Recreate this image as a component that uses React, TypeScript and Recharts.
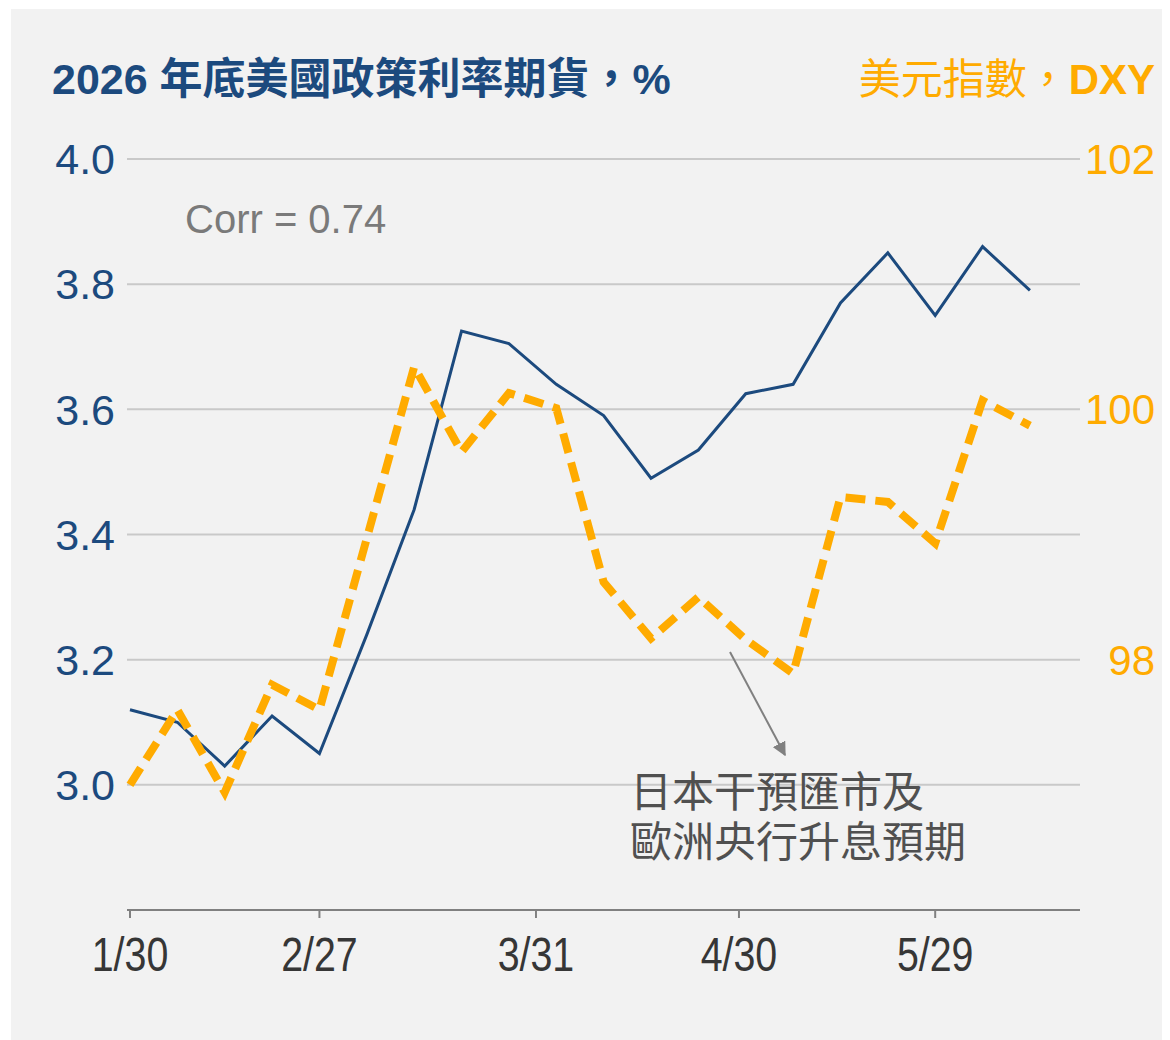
import { CartesianGrid, Line, LineChart, XAxis, YAxis } from 'recharts';

// weekly observations, x = days since 1/30
const DATES = ['1/30', '2/6', '2/13', '2/20', '2/27', '3/6', '3/13', '3/20', '3/27', '4/3',
  '4/10', '4/17', '4/24', '5/1', '5/8', '5/15', '5/22', '5/29', '6/5', '6/12'];
const DAYS = [0, 7, 14, 21, 28, 35, 42, 49, 56, 63, 70, 77, 84, 91, 98, 105, 112, 119, 126, 133];
const FED_2026 = [3.12, 3.10, 3.03, 3.11, 3.05, 3.24, 3.44, 3.725, 3.705, 3.64,
  3.59, 3.49, 3.535, 3.625, 3.64, 3.77, 3.85, 3.75, 3.86, 3.79];
const DXY = [97.0, 97.6, 96.94, 97.8, 97.6, 98.97, 100.34, 99.66, 100.13, 100.01,
  98.62, 98.17, 98.5, 98.16, 97.89, 99.3, 99.26, 98.93, 100.07, 99.87];

const X_TICKS = [0, 28, 60, 90, 119];
const X_TICK_LABELS = ['1/30', '2/27', '3/31', '4/30', '5/29'];
const LEFT_TICKS = [3.0, 3.2, 3.4, 3.6, 3.8, 4.0];
const RIGHT_TICKS = [98, 100, 102];

const BLUE = '#1c4a7e';
const ORANGE = '#ffab00';
const FONT = '"Liberation Sans", Arial, "Noto Sans CJK TC", sans-serif';

const data = DAYS.map((day, i) => ({ day, date: DATES[i], fed: FED_2026[i], dxy: DXY[i] }));

function DateTick({ x, y, payload }: any) {
  const i = X_TICKS.indexOf(payload.value);
  return (
    <g transform={`translate(${x},${y})`}>
      <text
        transform="scale(0.82,1)"
        textAnchor="middle"
        dy="0.71em"
        fontSize={48}
        fill="#363636"
        fontFamily={FONT}
      >
        {X_TICK_LABELS[i]}
      </text>
    </g>
  );
}

function DxyTick({ x, y, payload }: any) {
  return (
    <text x={x + 75} y={y} dy="0.355em" textAnchor="end" fontSize={42} fill={ORANGE} fontFamily={FONT}>
      {payload.value}
    </text>
  );
}

export default function App() {
  return (
    <div
      style={{
        position: 'relative',
        width: 1159,
        height: 1031,
        marginLeft: 3,
        marginTop: 1,
        background: '#f2f2f2',
        fontFamily: FONT,
      }}
    >
      <LineChart width={1159} height={1031} data={data} margin={{ top: 150, right: 10, bottom: 70, left: 16 }}>
        <CartesianGrid yAxisId="left" vertical={false} stroke="#c9c9c9" strokeWidth={2} />
        <XAxis
          dataKey="day"
          type="number"
          domain={[-0.44, 140.4]}
          ticks={X_TICKS}
          tick={<DateTick />}
          height={60}
          tickSize={8}
          tickMargin={19}
          axisLine={{ stroke: '#808080', strokeWidth: 2 }}
          tickLine={{ stroke: '#808080', strokeWidth: 2 }}
          interval={0}
        />
        <YAxis
          yAxisId="left"
          domain={[2.8, 4.0]}
          ticks={LEFT_TICKS}
          tickFormatter={(v: number) => v.toFixed(1)}
          width={100}
          axisLine={false}
          tickLine={false}
          tickMargin={6}
          tick={{ fontSize: 43, fill: BLUE, fontFamily: FONT }}
          interval={0}
        />
        <YAxis
          yAxisId="right"
          orientation="right"
          domain={[96, 102]}
          ticks={RIGHT_TICKS}
          width={80}
          axisLine={false}
          tickLine={false}
          tickSize={0}
          tickMargin={0}
          tick={<DxyTick />}
          interval={0}
        />
        <Line
          yAxisId="left"
          dataKey="fed"
          type="linear"
          stroke={BLUE}
          strokeWidth={3}
          dot={false}
          activeDot={false}
          isAnimationActive={false}
        />
        <Line
          yAxisId="right"
          dataKey="dxy"
          type="linear"
          stroke={ORANGE}
          strokeWidth={8}
          strokeDasharray="20 10"
          dot={false}
          activeDot={false}
          isAnimationActive={false}
        />
      </LineChart>
      <svg
        width={1159}
        height={1031}
        style={{ position: 'absolute', left: 0, top: 0, pointerEvents: 'none' }}
      >
        <defs>
          <marker id="arrow" viewBox="0 0 10 10" refX="9" refY="5" markerWidth="7" markerHeight="7" orient="auto">
            <path d="M0,0 L10,5 L0,10 z" fill="#808080" />
          </marker>
        </defs>
        <text x={41} y={85} fontSize={43} fontWeight="bold" fill={BLUE} fontFamily={FONT}>
          2026 年底美國政策利率期貨，%
        </text>
        <text x={1144} y={85} fontSize={42} fill={ORANGE} textAnchor="end" fontFamily={FONT}>
          美元指數，<tspan fontWeight="bold">DXY</tspan>
        </text>
        <text x={174} y={224} fontSize={40} fill="#7a7a7a" fontFamily={FONT}>
          Corr = 0.74
        </text>
        <line x1={719} y1={643} x2={774} y2={746} stroke="#808080" strokeWidth={2} markerEnd="url(#arrow)" />
        <text x={619} y={798} fontSize={42} fill="#505050" fontFamily={FONT}>
          日本干預匯市及
        </text>
        <text x={619} y={848} fontSize={42} fill="#505050" fontFamily={FONT}>
          歐洲央行升息預期
        </text>
      </svg>
    </div>
  );
}
